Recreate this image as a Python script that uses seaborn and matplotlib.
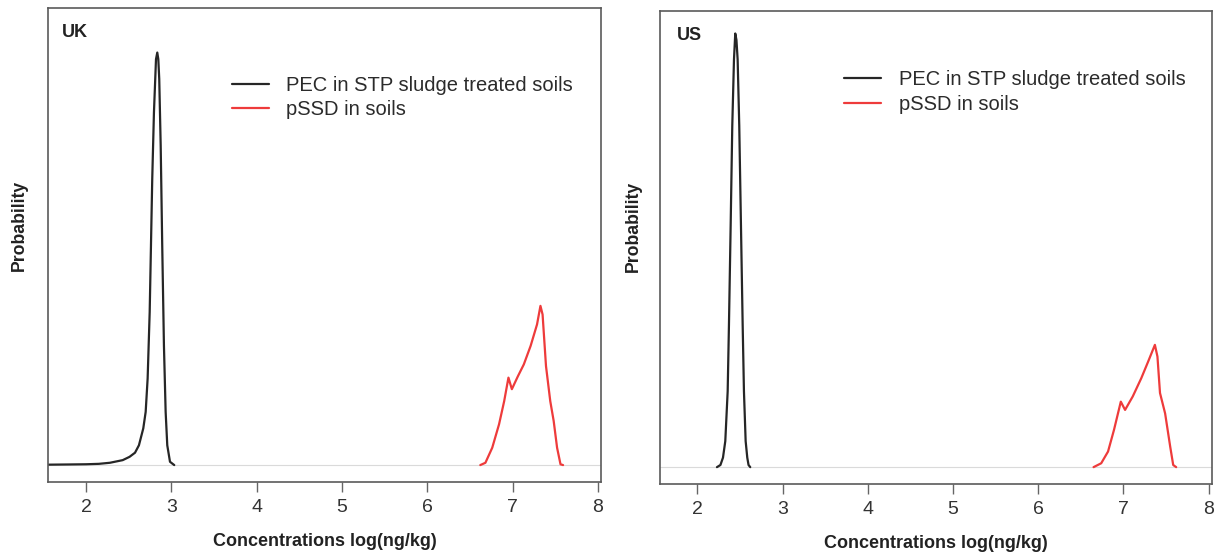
import matplotlib
matplotlib.use("Agg")
import matplotlib.pyplot as plt
import pandas as pd
import seaborn as sns

# series names
PEC = "PEC in STP sludge treated soils"
PSSD = "pSSD in soils"

# UK panel, values (relative probability)
uk_pec_x = [1.56, 1.80, 2.00, 2.15, 2.28, 2.43, 2.51, 2.574, 2.62, 2.671, 2.699, 2.722,
            2.746, 2.761, 2.776, 2.796, 2.82, 2.835, 2.847, 2.858, 2.875, 2.893, 2.913,
            2.933, 2.952, 2.984, 3.034]
uk_pec_y = [0.001, 0.0015, 0.002, 0.003, 0.0056, 0.012, 0.02, 0.03, 0.048, 0.089, 0.129, 0.21,
            0.371, 0.532, 0.694, 0.855, 0.984, 1.0, 0.984, 0.936, 0.774, 0.532, 0.29,
            0.129, 0.048, 0.008, 0.0]
uk_pssd_x = [6.62, 6.68, 6.76, 6.84, 6.90, 6.95, 6.99, 7.06, 7.13, 7.21, 7.285, 7.325,
             7.35, 7.39, 7.44, 7.48, 7.52, 7.56, 7.59]
uk_pssd_y = [0.0, 0.0056, 0.042, 0.099, 0.155, 0.212, 0.184, 0.215, 0.244, 0.289, 0.341, 0.386,
             0.365, 0.24, 0.155, 0.107, 0.042, 0.002, 0.0]

# US panel
us_pec_x = [2.229, 2.27, 2.30, 2.327, 2.355, 2.37, 2.39, 2.409, 2.429, 2.444, 2.458, 2.472,
            2.491, 2.511, 2.531, 2.546, 2.566, 2.585, 2.60, 2.62]
us_pec_y = [0.0, 0.005, 0.022, 0.06, 0.175, 0.328, 0.557, 0.787, 0.94, 1.0, 0.985, 0.94,
            0.787, 0.557, 0.328, 0.175, 0.06, 0.022, 0.005, 0.0]
us_pssd_x = [6.65, 6.74, 6.82, 6.89, 6.97, 7.02, 7.11, 7.21, 7.29, 7.37, 7.40, 7.43,
             7.49, 7.55, 7.585, 7.62]
us_pssd_y = [0.0, 0.009, 0.036, 0.086, 0.151, 0.132, 0.163, 0.205, 0.243, 0.282, 0.255, 0.171,
             0.124, 0.047, 0.005, 0.0]

x_ticks = [2, 3, 4, 5, 6, 7, 8]

colors = {PEC: "#262626", PSSD: "#EE3B3B"}


def make_frame(pec_x, pec_y, pssd_x, pssd_y):
    return pd.DataFrame({
        "conc": pec_x + pssd_x,
        "prob": pec_y + pssd_y,
        "series": [PEC] * len(pec_x) + [PSSD] * len(pssd_x),
    })


sns.set_style("white")
plt.rcParams["font.family"] = ["Liberation Sans", "DejaVu Sans"]

fig = plt.figure(figsize=(12.21, 5.56), dpi=100)

panels = [
    # name, data, axes rect, ylim, legend anchor, ylabel coords
    ("UK", make_frame(uk_pec_x, uk_pec_y, uk_pssd_x, uk_pssd_y),
     [0.0397, 0.1331, 0.4529, 0.8525], (-0.041, 1.108), (0.331, 0.811), (-0.052, 0.542)),
    ("US", make_frame(us_pec_x, us_pec_y, us_pssd_x, us_pssd_y),
     [0.5405, 0.1286, 0.4521, 0.8525], (-0.040, 1.053), (0.333, 0.828), (-0.048, 0.545)),
]

for name, df, rect, ylim, leg_anchor, ylab_xy in panels:
    ax = fig.add_axes(rect)
    ax.axhline(0, color="#DADADA", lw=0.8, zorder=0)
    sns.lineplot(data=df, x="conc", y="prob", hue="series", palette=colors,
                 sort=False, estimator=None, linewidth=1.6, ax=ax)
    sns.move_legend(ax, "center left", bbox_to_anchor=leg_anchor, title=None,
                    frameon=False, fontsize=14.5, handlelength=1.87,
                    handletextpad=0.86, labelspacing=0.28, borderpad=0,
                    borderaxespad=0)
    for txt in ax.get_legend().get_texts():
        txt.set_color("#2b2b2b")

    ax.set_xlim(1.56, 8.04)
    ax.set_ylim(*ylim)
    ax.set_xticks(x_ticks)
    ax.set_yticks([])
    ax.tick_params(axis="x", bottom=True, length=7, width=1, color="#666666",
                   labelsize=14, labelcolor="#333333", pad=5)
    for sp in ax.spines.values():
        sp.set_color("#5a5a5a")
        sp.set_linewidth(1.2)

    ax.set_xlabel("Concentrations log(ng/kg)", fontsize=13, fontweight="bold", color="#222222")
    ax.xaxis.label.set_va("center")
    ax.xaxis.set_label_coords(0.5, -0.125)
    ax.set_ylabel("Probability", fontsize=12.7, fontweight="bold", color="#222222")
    ax.yaxis.label.set_va("center")
    ax.yaxis.set_label_coords(*ylab_xy)

    ax.text(0.024 if name == "UK" else 0.030, 0.948, name, transform=ax.transAxes,
            fontsize=13, fontweight="bold", color="#222222", ha="left", va="center")

fig.savefig("out.png", dpi=100)
